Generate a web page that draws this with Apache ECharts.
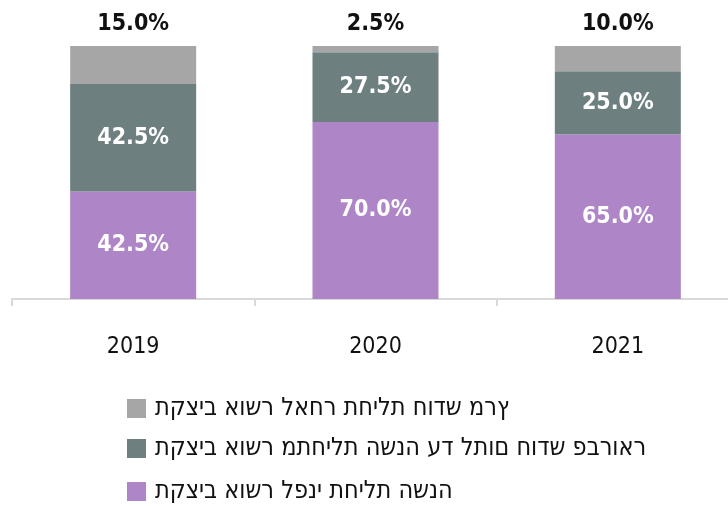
<!DOCTYPE html>
<html>
<head>
<meta charset="utf-8">
<script src="https://cdn.jsdelivr.net/npm/echarts@6/dist/echarts.min.js"></script>
<style>
    html, body {margin: 0; padding: 0; background: #fff;}
    #chart {width: 728px; height: 506px;}
</style>
</head>
<body>
<div id="chart"></div>
<script>
const years = ['2019', '2020', '2021'];
const beforeYear = [42.5, 70.0, 65.0];
const untilFebruary = [42.5, 27.5, 25.0];
const afterMarch = [15.0, 2.5, 10.0];

const seriesNames = [
    'תקציב אושר לפני תחילת השנה',
    'תקציב אושר מתחילת השנה עד לתום חודש פברואר',
    'תקציב אושר לאחר תחילת חודש מרץ',
];
// legend rows, top to bottom
const legendOrder = [2, 1, 0];
const legendTops = [396, 436, 479];

const numFont = '"Liberation Sans Narrow", "DejaVu Sans Condensed", sans-serif';
const pct = p => p.value.toFixed(1) + '%';
// the source draws the hebrew glyphs left to right
const ltr = s => '\u202D' + s + '\u202C';

const chart = echarts.init(document.getElementById('chart'));
chart.setOption({
    animation: false,
    color: ['#ae85c6', '#6e7f80', '#a6a6a6'],
    grid: {left: 12, width: 727, top: 46, bottom: 207, outerBoundsMode: 'none'},
    legend: legendOrder.map((idx, i) => ({
        left: 127,
        top: legendTops[i],
        padding: 0,
        icon: 'rect',
        itemWidth: 19,
        itemHeight: 19,
        data: [seriesNames[idx]],
        formatter: name => ltr(name),
        textStyle: {fontFamily: numFont, fontSize: 25, color: '#111', padding: [0, 0, 0, 4]},
    })),
    xAxis: {
        type: 'category',
        data: years,
        axisLine: {lineStyle: {color: '#d9d9d9', width: 2}},
        axisTick: {show: true, length: 7, lineStyle: {color: '#d9d9d9', width: 2}},
        axisLabel: {margin: 37, fontFamily: numFont, fontSize: 23, color: '#111'},
    },
    yAxis: {type: 'value', min: 0, max: 100, show: false},
    series: [
        {
            name: seriesNames[0], type: 'bar', stack: 'a', barWidth: '52%',
            data: beforeYear,
            label: {show: true, position: 'inside', color: '#fff', fontWeight: 'bold', fontSize: 23, fontFamily: numFont, formatter: pct},
        },
        {
            name: seriesNames[1], type: 'bar', stack: 'a',
            data: untilFebruary,
            label: {show: true, position: 'inside', color: '#fff', fontWeight: 'bold', fontSize: 23, fontFamily: numFont, formatter: pct},
        },
        {
            name: seriesNames[2], type: 'bar', stack: 'a',
            data: afterMarch,
            label: {show: true, position: 'top', distance: 10, color: '#111', fontWeight: 'bold', fontSize: 23, fontFamily: numFont, formatter: pct},
        },
    ],
});
</script>
</body>
</html>
